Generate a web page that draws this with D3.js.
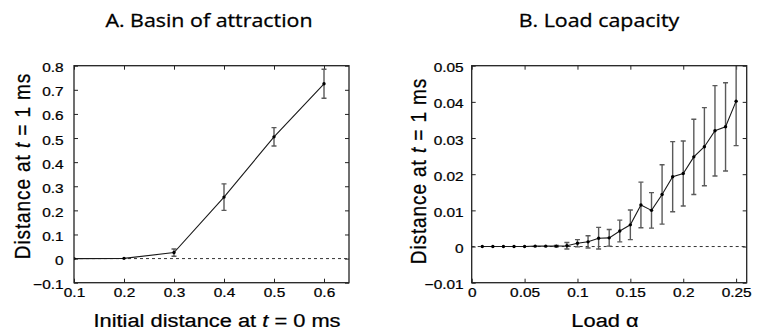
<!DOCTYPE html>
<html>
<head>
<meta charset="utf-8">
<script src="https://cdn.jsdelivr.net/npm/d3@7"></script>
<style>
  body { margin: 0; background: #fff; }
  svg { display: block; font-family: "Liberation Sans", Arial, sans-serif; }
  .title { font-family: "Open Sans", sans-serif; font-size: 18.6px; fill: #000; stroke: #000; stroke-width: 0.3px; }
  .tick text { font-family: "Liberation Sans", Arial, sans-serif; font-size: 13.4px; fill: #000; stroke: #000; stroke-width: 0.25px; }
  .lab { font-size: 19px; fill: #000; stroke: #000; stroke-width: 0.25px; }
</style>
</head>
<body>
<svg id="chart" width="758" height="334"></svg>
<script>
// A. Basin of attraction
const basinX = [0.1, 0.2, 0.3, 0.4, 0.5, 0.6];
const basinY = [0, 0.001, 0.025, 0.255, 0.505, 0.725];
const basinErr = [0, 0, 0.015, 0.055, 0.038, 0.06];
const basinXTicks = [0.1, 0.2, 0.3, 0.4, 0.5, 0.6];
const basinYTicks = [-0.1, 0, 0.1, 0.2, 0.3, 0.4, 0.5, 0.6, 0.7, 0.8];

// B. Load capacity
const loadX = [0.01, 0.02, 0.03, 0.04, 0.05, 0.06, 0.07, 0.08, 0.09, 0.10, 0.11, 0.12, 0.13,
  0.14, 0.15, 0.16, 0.17, 0.18, 0.19, 0.20, 0.21, 0.22, 0.23, 0.24, 0.25];
const loadY = [0, 0, 0, 0, 0, 0.0001, 0.0001, 0.0001, 0.0002, 0.0009, 0.0013, 0.0023, 0.0024,
  0.0043, 0.006, 0.0115, 0.010, 0.0144, 0.0193, 0.0202, 0.0248, 0.0276, 0.032, 0.0331, 0.0402];
const loadErr = [0, 0, 0, 0, 0, 0, 0, 0.0002, 0.0009, 0.001, 0.0017, 0.003, 0.0023,
  0.003, 0.0041, 0.0063, 0.0049, 0.0082, 0.0097, 0.009, 0.0104, 0.0108, 0.0125, 0.0122, 0.0123];
const loadXTicks = [0, 0.05, 0.1, 0.15, 0.2, 0.25];
const loadYTicks = [-0.01, 0, 0.01, 0.02, 0.03, 0.04, 0.05];

const svg = d3.select('#chart');
const stretch = 1.15; // source figure is a bit wider than tall

function panel(opts) {
  const x = d3.scaleLinear().domain(opts.xDomain).range([opts.left, opts.right]);
  const y = d3.scaleLinear().domain(opts.yDomain).range([opts.bottom, opts.top]);
  const g = svg.append('g');
  const fmt = d3.format('~g');

  g.append('clipPath').attr('id', opts.id + '-clip')
    .append('rect')
      .attr('x', opts.left).attr('y', opts.top)
      .attr('width', opts.right - opts.left).attr('height', opts.bottom - opts.top);

  // axes, ticks inward
  const ax = [
    [d3.axisBottom(x).tickValues(opts.xTicks).tickFormat(fmt).tickPadding(5), `translate(0,${opts.bottom})`],
    [d3.axisTop(x).tickValues(opts.xTicks).tickFormat(''), `translate(0,${opts.top})`],
    [d3.axisLeft(y).tickValues(opts.yTicks).tickFormat(fmt).tickPadding(opts.yPad), `translate(${opts.left},0)`],
    [d3.axisRight(y).tickValues(opts.yTicks).tickFormat(''), `translate(${opts.right},0)`]
  ];
  ax.forEach(([a, t]) => {
    const sel = g.append('g').attr('transform', t)
      .call(a.tickSizeInner(-4).tickSizeOuter(0))
      .attr('font-family', null).attr('font-size', null);
    sel.select('.domain').remove();
    sel.selectAll('.tick line').attr('stroke', '#222');
    sel.selectAll('.tick text').attr('transform', `scale(${stretch},1)`);
  });
  g.selectAll('.tick text').filter(function () { return this.getAttribute('dy') === '0.32em'; })
    .attr('dy', '0.45em');

  // zero line
  g.append('line')
    .attr('x1', opts.left).attr('x2', opts.right)
    .attr('y1', y(0)).attr('y2', y(0))
    .attr('stroke', '#333').attr('stroke-width', 1).attr('stroke-dasharray', '3,3');

  const pts = opts.xs.map((v, i) => ({ x: v, y: opts.ys[i], e: opts.errs[i] }));
  const plot = g.append('g').attr('clip-path', `url(#${opts.id}-clip)`);

  // error bars
  const eb = plot.selectAll('.eb').data(pts.filter(d => d.e > 0)).enter().append('g')
    .attr('stroke', '#5a5a5a').attr('stroke-width', 1.4);
  eb.append('line')
    .attr('x1', d => x(d.x)).attr('x2', d => x(d.x))
    .attr('y1', d => y(d.y - d.e)).attr('y2', d => y(d.y + d.e));
  [-1, 1].forEach(s => {
    eb.append('line')
      .attr('x1', d => x(d.x) - 2.5).attr('x2', d => x(d.x) + 2.5)
      .attr('y1', d => y(d.y + s * d.e)).attr('y2', d => y(d.y + s * d.e));
  });

  plot.append('path').datum(pts)
    .attr('fill', 'none').attr('stroke', '#1a1a1a').attr('stroke-width', 1.1)
    .attr('d', d3.line().x(d => x(d.x)).y(d => y(d.y)));

  plot.selectAll('.pt').data(pts).enter().append('circle')
    .attr('cx', d => x(d.x)).attr('cy', d => y(d.y)).attr('r', 1.7).attr('fill', '#000');

  // frame
  g.append('rect')
    .attr('x', opts.left).attr('y', opts.top)
    .attr('width', opts.right - opts.left).attr('height', opts.bottom - opts.top)
    .attr('fill', 'none').attr('stroke', '#222').attr('stroke-width', 1.3);

  // title
  g.append('text').attr('class', 'title')
    .attr('transform', `translate(${opts.titleX},26.5) scale(${stretch},1)`)
    .attr('text-anchor', 'middle').text(opts.title);

  // x label
  const xl = g.append('text').attr('class', 'lab')
    .attr('transform', `translate(${opts.xLabelX},326.5) scale(${stretch},1)`)
    .attr('text-anchor', 'middle');
  opts.xLabel.forEach(([s, it]) => xl.append('tspan').attr('font-style', it ? 'italic' : null).text(s));

  // y label
  const yl = g.append('text').attr('class', 'lab')
    .attr('transform', `translate(${opts.yLabelX},${opts.yLabelY}) scale(${stretch},1) rotate(-90)`)
    .attr('text-anchor', 'middle').attr('letter-spacing', 0.9);
  [['Distance at ', false], ['t', true], [' = 1 ms', false]]
    .forEach(([s, it]) => yl.append('tspan').attr('font-style', it ? 'italic' : null).text(s));
}

panel({
  id: 'a', title: 'A. Basin of attraction', titleX: 209,
  left: 74, right: 349, top: 65.7, bottom: 282.7,
  xDomain: [0.1, 0.65], yDomain: [-0.1, 0.8],
  xTicks: basinXTicks, yTicks: basinYTicks, yPad: 9,
  xs: basinX, ys: basinY, errs: basinErr,
  xLabel: [['Initial distance at ', false], ['t', true], [' = 0 ms', false]], xLabelX: 217,
  yLabelX: 29.5, yLabelY: 166
});

panel({
  id: 'b', title: 'B. Load capacity', titleX: 599,
  left: 471.7, right: 746.7, top: 65.7, bottom: 282.7,
  xDomain: [0, 0.26], yDomain: [-0.01, 0.05],
  xTicks: loadXTicks, yTicks: loadYTicks, yPad: 7,
  xs: loadX, ys: loadY, errs: loadErr,
  xLabel: [['Load α', false]], xLabelX: 605,
  yLabelX: 426, yLabelY: 171
});
</script>
</body>
</html>
